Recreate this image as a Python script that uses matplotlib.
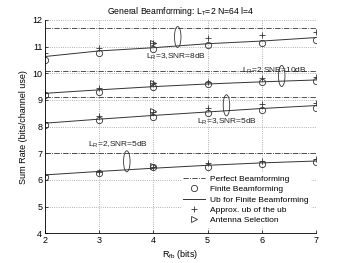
import numpy as np
import matplotlib.pyplot as plt
from matplotlib.patches import Ellipse

plt.rcParams['font.family'] = ['Liberation Sans', 'DejaVu Sans']

rfb = np.array([2, 3, 4, 5, 6, 7])

# groups: (L_R=3,8dB), (L_R=2,10dB), (L_R=3,5dB), (L_R=2,5dB)
perfect = [11.69, 10.10, 9.12, 7.00]
ub_line = [
    [10.63, 10.84, 10.96, 11.11, 11.21, 11.34],
    [9.25, 9.38, 9.50, 9.60, 9.68, 9.75],
    [8.13, 8.28, 8.42, 8.55, 8.68, 8.79],
    [6.19, 6.32, 6.44, 6.55, 6.64, 6.71],
]
finite = [
    [10.50, 10.75, 10.90, 11.06, 11.15, 11.25],
    [9.19, 9.31, 9.48, 9.60, 9.69, 9.72],
    [8.06, 8.25, 8.38, 8.50, 8.63, 8.69],
    [6.12, 6.27, 6.47, 6.50, 6.60, 6.67],
]
approx_ub = [
    [10.75, 10.96, 11.12, 11.31, 11.44, 11.54],
    [9.28, 9.44, 9.62, 9.66, 9.81, 9.85],
    [8.19, 8.40, 8.56, 8.71, 8.84, 8.90],
    [6.20, 6.31, 6.50, 6.62, 6.71, 6.79],
]
ant_sel_x = 4
ant_sel = [11.15, 9.65, 8.59, 6.52]

ell_x = [4.45, 6.37, 5.35, 3.51]
ell_y = [11.36, 9.90, 8.80, 6.70]
labels = [r"L$_\mathregular{R}$=3,SNR=8dB", r"L$_\mathregular{R}$=2,SNR=10dB",
          r"L$_\mathregular{R}$=3,SNR=5dB", r"L$_\mathregular{R}$=2,SNR=5dB"]
label_xy = [(3.86, 10.63), (5.64, 10.10), (4.80, 8.19), (2.80, 7.31)]

fig = plt.figure(figsize=(3.49, 2.63), dpi=100)
ax = fig.add_axes([0.129, 0.113, 0.776, 0.811])

c = "#333333"
for i in range(4):
    lab = i == 0
    ax.plot([2, 7], [perfect[i]] * 2, linestyle="-.", color=c, lw=0.6,
            label="Perfect Beamforming" if lab else None)
    ax.plot(rfb, finite[i], "o", mfc="none", mec=c, ms=4.5, mew=0.6,
            label="Finite Beamforming" if lab else None)
    ax.plot(rfb, ub_line[i], "-", color=c, lw=0.7,
            label="Ub for Finite Beamforming" if lab else None)
    ax.plot(rfb, approx_ub[i], "+", color=c, ms=5, mew=0.6,
            label="Approx. ub of the ub" if lab else None)
    ax.plot([ant_sel_x], [ant_sel[i]], ">", mfc="none", mec=c, ms=4, mew=0.6,
            label="Antenna Selection" if lab else None)
    ax.add_patch(Ellipse((ell_x[i], ell_y[i]), 0.12, 0.79, fill=False,
                         edgecolor=c, lw=0.6))
    ax.text(label_xy[i][0], label_xy[i][1], labels[i], fontsize=6,
            va="center", ha="left", color="#222222")

ax.set_xlim(2, 7)
ax.set_ylim(4, 12)
ax.set_xticks([2, 3, 4, 5, 6, 7])
ax.set_yticks([4, 5, 6, 7, 8, 9, 10, 11, 12])
ax.tick_params(labelsize=6.5, length=2, width=0.5, direction="in", pad=2)
ax.grid(True, linestyle=":", color="#999999", lw=0.6)
ax.spines["top"].set_visible(False)
ax.spines["right"].set_visible(False)
for s in ["left", "bottom"]:
    ax.spines[s].set_linewidth(0.6)

ax.set_title(r"General Beamforming: L$_\mathregular{T}$=2 N=64 l=4", fontsize=6.2, pad=4)
ax.set_xlabel(r"R$_\mathregular{fb}$ (bits)", fontsize=6.5, labelpad=2)
ax.set_ylabel("Sum Rate (bits/channel use)", fontsize=6.5, labelpad=3)

leg = ax.legend(loc="lower right", fontsize=6, frameon=True, fancybox=False,
                edgecolor="white", facecolor="white", framealpha=1,
                borderpad=0.2, labelspacing=0.3, handlelength=2.6,
                handletextpad=0.6, bbox_to_anchor=(0.995, 0.015))

fig.savefig("out.png", dpi=100)
